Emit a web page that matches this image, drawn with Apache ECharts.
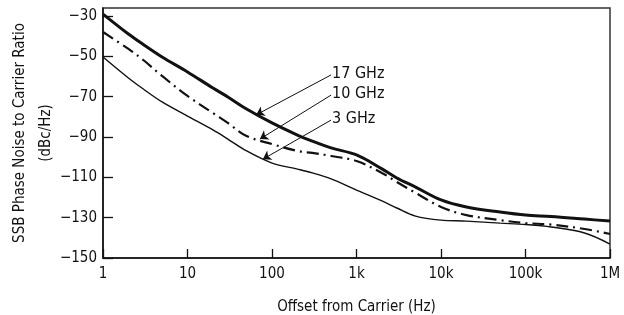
<!DOCTYPE html>
<html>
<head>
<meta charset="utf-8">
<script src="https://cdn.jsdelivr.net/npm/echarts@6/dist/echarts.min.js"></script>
<style>
  html, body { margin: 0; padding: 0; background: #fff; }
  #chart { width: 624px; height: 315px; }
</style>
</head>
<body>
<div id="chart"></div>
<script>
// offset from carrier, Hz
const freqs = [1, 2, 3, 5, 10, 20, 30, 50, 100, 200, 300, 500,
  1e3, 2e3, 3e3, 5e3, 1e4, 2e4, 5e4, 1e5, 2e5, 5e5, 1e6];

// SSB phase noise, dBc/Hz
const noise17GHz = [-29.0, -38.9, -44.1, -50.3, -57.7, -65.7, -70.1, -76.1, -83.0, -89.0, -92.0, -95.4,
  -98.9, -105.8, -110.3, -114.8, -121.2, -124.7, -127.2, -128.7, -129.4, -130.7, -131.7];
const noise10GHz = [-37.9, -46.3, -51.8, -59.7, -69.6, -78.1, -83.0, -89.5, -93.5, -96.9, -97.9, -99.4,
  -101.9, -107.8, -112.3, -117.7, -124.7, -128.7, -131.2, -132.7, -133.4, -135.6, -138.1];
const noise3GHz = [-50.3, -60.7, -66.2, -72.6, -79.6, -86.5, -91.0, -96.9, -102.9, -105.9, -107.8, -110.8,
  -116.3, -121.7, -125.2, -129.2, -131.2, -131.7, -132.7, -133.4, -134.6, -137.6, -143.1];

const seriesNames = ["17 GHz", "10 GHz", "3 GHz"];

const xTickValues = [1, 10, 100, 1e3, 1e4, 1e5, 1e6];
const xTickLabels = ["1", "10", "100", "1k", "10k", "100k", "1M"];

// callout lines: [label anchor, arrow tip] in data units
const callouts = [
  [[500, -59.2], [65, -79]],
  [[500, -69.2], [72, -91]],
  [[500, -81.6], [78, -101]],
];

const FONT = "'DejaVu Sans Condensed', 'Liberation Sans Narrow', sans-serif";
const INK = "#111";

const chart = echarts.init(document.getElementById("chart"), null, { renderer: "canvas" });

const lineStyles = [
  { width: 3, type: "solid" },
  { width: 2.2, type: [12, 5, 2, 5] },
  { width: 1.4, type: "solid" },
];

const allValues = [noise17GHz, noise10GHz, noise3GHz];

const option = {
  animation: false,
  backgroundColor: "#fff",
  grid: {
    left: 103,
    right: 14,
    top: 8,
    bottom: 57,
    outerBoundsMode: "none",
    containLabel: false,
    show: true,
    borderColor: "#333",
    borderWidth: 1.5,
  },
  xAxis: {
    type: "log",
    logBase: 10,
    min: 1,
    max: 1e6,
    name: "Offset from Carrier (Hz)",
    nameLocation: "middle",
    nameGap: 42,
    nameMoveOverlap: false,
    nameTextStyle: { color: INK, fontSize: 15, fontFamily: FONT },
    axisLine: { lineStyle: { color: INK, width: 1.5 } },
    axisTick: { inside: true, length: 9, lineStyle: { color: INK, width: 1.3 } },
    minorTick: { show: false },
    splitLine: { show: false },
    axisLabel: {
      color: INK,
      fontSize: 15,
      fontFamily: FONT,
      margin: 9,
      formatter: (v) => {
        const i = xTickValues.findIndex((t) => Math.abs(Math.log10(t) - Math.log10(v)) < 1e-6);
        return i >= 0 ? xTickLabels[i] : "";
      },
    },
  },
  yAxis: {
    type: "value",
    min: -150,
    max: -26,
    interval: 20,
    name: "SSB Phase Noise to Carrier Ratio\n(dBc/Hz)",
    nameLocation: "middle",
    nameRotate: 90,
    nameGap: 44,
    nameMoveOverlap: false,
    nameTextStyle: { color: INK, fontSize: 15, lineHeight: 26, fontFamily: FONT, align: "center" },
    axisLine: { show: true, lineStyle: { color: INK, width: 1.5 } },
    axisTick: { inside: true, length: 10, lineStyle: { color: INK, width: 1.3 } },
    splitLine: { show: false },
    axisLabel: {
      color: INK,
      fontSize: 15,
      fontFamily: FONT,
      margin: 6,
      showMaxLabel: false,
      formatter: (v) => (v % 20 === 10 || v % 20 === -10 ? (v < 0 ? "\u2212" + Math.abs(v) : String(v)) : ""),
    },
  },
  series: seriesNames.map((name, k) => ({
    name,
    type: "line",
    data: freqs.map((f, i) => [f, allValues[k][i]]),
    smooth: 0.35,
    showSymbol: false,
    lineStyle: Object.assign({ color: INK }, lineStyles[k]),
    z: 3 - k,
    markLine: {
      silent: true,
      symbol: ["none", "arrow"],
      symbolSize: 8,
      label: { show: false },
      lineStyle: { color: INK, width: 1, type: "solid" },
      data: [[{ coord: callouts[k][0] }, { coord: callouts[k][1] }]],
    },
    markPoint: {
      silent: true,
      symbolSize: 0,
      label: {
        show: true,
        position: "right",
        distance: 1,
        offset: [0, -1],
        color: INK,
        fontSize: 16,
        fontFamily: FONT,
        formatter: name,
      },
      data: [{ coord: callouts[k][0], value: name }],
    },
  })),
};

chart.setOption(option);
</script>
</body>
</html>
